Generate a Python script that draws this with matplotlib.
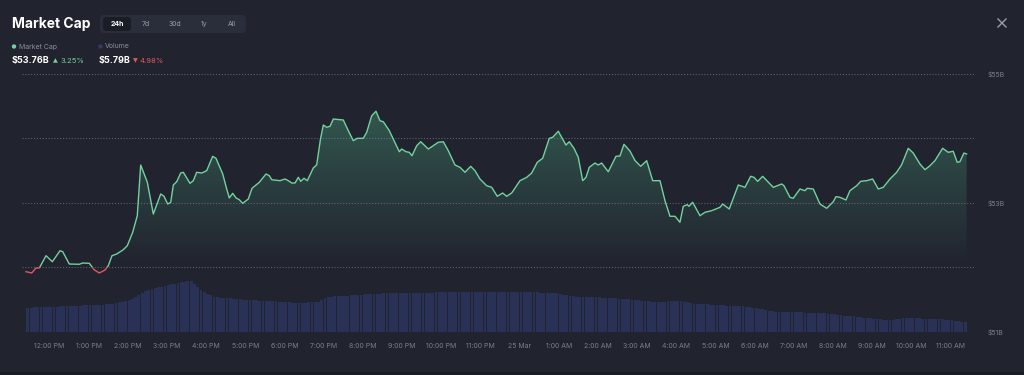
import numpy as np
import matplotlib
matplotlib.use("Agg")
import matplotlib.pyplot as plt
from matplotlib.patches import Rectangle, FancyBboxPatch, Circle
from matplotlib.lines import Line2D
from matplotlib.transforms import IdentityTransform

plt.rcParams['font.family'] = ['Inter', 'DejaVu Sans']

# 시간축: 24 Mar 12:00 PM 기준 경과 시간(h)
hours = [
    -0.595, -0.449, -0.339, -0.255, -0.084, 0.077, 0.273, 0.342, 0.510, 0.766,
    0.852, 1.021, 1.141, 1.276, 1.421, 1.505, 1.600, 1.720, 1.888, 1.990,
    2.128, 2.245, 2.332, 2.501, 2.654, 2.843, 2.927, 3.021, 3.098, 3.164,
    3.251, 3.353, 3.419, 3.590, 3.674, 3.761, 3.889, 4.016, 4.169, 4.254,
    4.425, 4.527, 4.593, 4.680, 4.764, 4.848, 4.935, 5.078, 5.172, 5.358,
    5.530, 5.614, 5.675, 5.887, 6.014, 6.099, 6.185, 6.270, 6.354, 6.415,
    6.499, 6.583, 6.736, 6.823, 6.920, 6.992, 7.078, 7.163, 7.247, 7.502,
    7.630, 7.757, 7.859, 8.012, 8.099, 8.227, 8.336, 8.438, 8.523, 8.676,
    8.796, 8.931, 8.992, 9.102, 9.186, 9.255, 9.375, 9.477, 9.671, 9.798,
    9.926, 10.054, 10.181, 10.352, 10.480, 10.607, 10.753, 10.862, 10.990, 11.161,
    11.289, 11.431, 11.569, 11.671, 11.799, 12.011, 12.182, 12.309, 12.452, 12.590,
    12.758, 12.845, 12.988, 13.075, 13.184, 13.269, 13.389, 13.498, 13.611, 13.695,
    13.779, 13.924, 14.009, 14.095, 14.264, 14.460, 14.562, 14.664, 14.817, 14.945,
    15.091, 15.244, 15.397, 15.583, 15.711, 15.838, 15.966, 16.093, 16.178, 16.280,
    16.323, 16.417, 16.604, 16.731, 16.902, 17.114, 17.183, 17.351, 17.581, 17.752,
    17.897, 17.982, 18.076, 18.204, 18.474, 18.688, 18.747, 18.900, 18.984, 19.155,
    19.283, 19.341, 19.495, 19.666, 19.837, 20.005, 20.074, 20.176, 20.329, 20.431,
    20.602, 20.704, 20.857, 21.010, 21.153, 21.281, 21.452, 21.623, 21.750, 21.919,
    22.046, 22.217, 22.345, 22.472, 22.600, 22.796, 22.939, 23.066, 23.168, 23.237,
    23.339, 23.408,
]

# 시가총액 ($B)
mcap = [
    51.935, 51.915, 51.992, 51.992, 52.183, 52.090, 52.260, 52.245, 52.054, 52.050,
    52.070, 52.065, 51.966, 51.915, 51.961, 52.028, 52.183, 52.209, 52.276, 52.338,
    52.546, 52.803, 53.589, 53.321, 52.829, 53.140, 53.104, 52.984, 53.011, 53.279,
    53.330, 53.465, 53.476, 53.305, 53.346, 53.476, 53.465, 53.501, 53.724, 53.693,
    53.450, 53.217, 53.078, 53.150, 53.078, 53.051, 52.995, 53.062, 53.228, 53.321,
    53.450, 53.423, 53.361, 53.346, 53.372, 53.346, 53.310, 53.310, 53.398, 53.336,
    53.383, 53.346, 53.543, 53.592, 53.992, 54.209, 54.174, 54.189, 54.302, 54.287,
    54.121, 53.966, 54.003, 54.003, 54.096, 54.353, 54.422, 54.276, 54.260, 54.121,
    53.966, 53.795, 53.837, 53.795, 53.786, 53.733, 53.888, 53.950, 53.837, 53.888,
    53.941, 53.950, 53.811, 53.589, 53.553, 53.476, 53.569, 53.501, 53.372, 53.268,
    53.243, 53.104, 53.155, 53.104, 53.155, 53.346, 53.398, 53.465, 53.631, 53.693,
    54.003, 54.019, 54.112, 54.019, 53.899, 53.950, 53.848, 53.709, 53.346, 53.398,
    53.553, 53.620, 53.589, 53.620, 53.485, 53.724, 53.729, 53.910, 53.806, 53.659,
    53.569, 53.656, 53.346, 53.346, 53.036, 52.794, 52.794, 52.701, 52.949, 52.974,
    52.949, 53.011, 52.803, 52.856, 52.881, 52.933, 52.984, 52.907, 53.279, 53.243,
    53.414, 53.398, 53.336, 53.414, 53.243, 53.295, 53.268, 53.088, 53.073, 53.217,
    53.191, 53.228, 53.217, 52.984, 52.918, 53.020, 53.098, 53.088, 53.047, 53.191,
    53.268, 53.336, 53.346, 53.372, 53.217, 53.243, 53.372, 53.476, 53.594, 53.848,
    53.775, 53.605, 53.516, 53.578, 53.656, 53.848, 53.786, 53.802, 53.631, 53.640,
    53.775, 53.760,
]
base_mcap = 52.0

# 24시간 거래량 ($B), 5분 간격, 11:25 AM 부터
vol_start = -7 / 12
volume = [
    6.08, 6.08, 6.09, 6.09, 6.09, 6.09, 6.10, 6.10, 6.10, 6.10, 6.11, 6.11,
    6.11, 6.11, 6.12, 6.12, 6.12, 6.13, 6.13, 6.13, 6.14, 6.14, 6.14, 6.14,
    6.15, 6.15, 6.16, 6.17, 6.19, 6.20, 6.22, 6.24, 6.26, 6.29, 6.33, 6.37,
    6.41, 6.43, 6.45, 6.47, 6.49, 6.50, 6.52, 6.53, 6.55, 6.56, 6.58, 6.59,
    6.60, 6.61, 6.61, 6.55, 6.49, 6.43, 6.39, 6.36, 6.33, 6.30, 6.29, 6.28,
    6.28, 6.27, 6.27, 6.26, 6.25, 6.25, 6.24, 6.24, 6.23, 6.23, 6.23, 6.22,
    6.22, 6.22, 6.21, 6.21, 6.21, 6.20, 6.20, 6.19, 6.19, 6.18, 6.18, 6.18,
    6.18, 6.18, 6.19, 6.19, 6.19, 6.20, 6.23, 6.27, 6.30, 6.30, 6.31, 6.31,
    6.31, 6.32, 6.32, 6.33, 6.33, 6.34, 6.34, 6.35, 6.35, 6.35, 6.36, 6.36,
    6.36, 6.37, 6.37, 6.38, 6.38, 6.38, 6.38, 6.38, 6.38, 6.38, 6.38, 6.38,
    6.38, 6.38, 6.38, 6.38, 6.38, 6.39, 6.39, 6.39, 6.39, 6.39, 6.39, 6.39,
    6.39, 6.39, 6.39, 6.39, 6.39, 6.39, 6.39, 6.39, 6.39, 6.39, 6.39, 6.39,
    6.39, 6.39, 6.39, 6.39, 6.39, 6.39, 6.39, 6.39, 6.39, 6.39, 6.39, 6.39,
    6.39, 6.38, 6.38, 6.38, 6.37, 6.37, 6.37, 6.35, 6.34, 6.33, 6.31, 6.31,
    6.30, 6.30, 6.30, 6.30, 6.29, 6.29, 6.29, 6.29, 6.28, 6.28, 6.27, 6.27,
    6.27, 6.26, 6.26, 6.25, 6.25, 6.24, 6.24, 6.23, 6.22, 6.22, 6.21, 6.20,
    6.20, 6.20, 6.20, 6.20, 6.21, 6.21, 6.21, 6.21, 6.21, 6.20, 6.19, 6.17,
    6.16, 6.16, 6.16, 6.15, 6.15, 6.14, 6.14, 6.13, 6.13, 6.13, 6.12, 6.12,
    6.12, 6.11, 6.11, 6.11, 6.10, 6.09, 6.08, 6.07, 6.06, 6.05, 6.03, 6.02,
    6.01, 6.00, 6.00, 6.00, 6.00, 5.99, 5.99, 5.99, 5.99, 5.99, 5.98, 5.98,
    5.98, 5.98, 5.98, 5.98, 5.97, 5.96, 5.95, 5.95, 5.94, 5.93, 5.92, 5.92,
    5.91, 5.91, 5.90, 5.89, 5.88, 5.88, 5.87, 5.86, 5.86, 5.85, 5.84, 5.84,
    5.83, 5.84, 5.85, 5.86, 5.88, 5.88, 5.88, 5.87, 5.87, 5.87, 5.86, 5.86,
    5.86, 5.86, 5.85, 5.85, 5.85, 5.84, 5.84, 5.83, 5.82, 5.81, 5.80, 5.79,
]

tick_labels = ['12:00 PM', '1:00 PM', '2:00 PM', '3:00 PM', '4:00 PM', '5:00 PM',
               '6:00 PM', '7:00 PM', '8:00 PM', '9:00 PM', '10:00 PM', '11:00 PM',
               '25 Mar', '1:00 AM', '2:00 AM', '3:00 AM', '4:00 AM', '5:00 AM',
               '6:00 AM', '7:00 AM', '8:00 AM', '9:00 AM', '10:00 AM', '11:00 AM']
y_ticks = [51, 53, 55]
y_labels = ['$51B', '$53B', '$55B']
tabs = ['24h', '7d', '30d', '1y', 'All']

BG = '#21232f'
GREEN = '#72d29e'
RED = '#de5a5e'
MUTED = '#7a7e8c'

W, H = 1024, 375
fig = plt.figure(figsize=(W / 100, H / 100), dpi=100, facecolor=BG)


def fx(x):
    return x / W


def fy(y):
    return 1 - y / H


# 차트 영역
ax = fig.add_axes([fx(22), fy(332), fx(975) - fx(22), fy(60) - fy(332)])
ax_v = ax.twinx()
ax.set_zorder(ax_v.get_zorder() + 1)
ax.patch.set_visible(False)
ax_v.set_facecolor(BG)

xlim = (-0.697, 23.622)
ax.set_xlim(*xlim)
ax.set_ylim(51, 55.217)
ax_v.set_ylim(5.59, 11.03)

# 거래량 막대
vol_times = vol_start + np.arange(len(volume)) / 12
ax_v.bar(vol_times, volume, width=0.072, color='#2a3156', edgecolor='none', align='edge')
ax_v.set_yticks([])

# 그리드
for g in [51, 52, 53, 54, 55]:
    ax.axhline(g, color='#5b5f70', lw=0.8, ls=(0, (1, 1.6)), zorder=1)

# 그라데이션 영역
h = np.array(hours)
m = np.array(mcap)
poly = ax.fill_between(h, m, base_mcap, color='none', lw=0)
grad = np.zeros((100, 1, 4))
grad[:, 0, 0] = 0.31
grad[:, 0, 1] = 0.68
grad[:, 0, 2] = 0.51
grad[:, 0, 3] = np.linspace(0.38, 0.0, 100)
im = ax.imshow(grad, extent=[h[0], h[-1], base_mcap, 54.45], aspect='auto',
               origin='upper', zorder=2, interpolation='bilinear')
im.set_clip_path(poly.get_paths()[0], transform=ax.transData)
ax.set_xlim(*xlim)
ax.set_ylim(51, 55.217)

# 선 (기준 이상은 초록, 이하는 빨강)
ln_g, = ax.plot(h, m, color=GREEN, lw=1.0, zorder=4)
ln_r, = ax.plot(h, m, color=RED, lw=1.0, zorder=4)
clip_up = Rectangle((xlim[0], base_mcap), 30, 10, transform=ax.transData)
clip_dn = Rectangle((xlim[0], base_mcap - 10), 30, 10, transform=ax.transData)
ln_g.set_clip_path(clip_up)
ln_r.set_clip_path(clip_dn)

# 축 설정
ax.yaxis.tick_right()
ax.set_yticks(y_ticks)
ax.set_yticklabels(y_labels)
ax.set_xticks(range(len(tick_labels)))
ax.set_xticklabels(tick_labels)
ax.tick_params(axis='y', length=0, pad=9, labelsize=5, labelcolor=MUTED)
ax.tick_params(axis='x', length=0, pad=8, labelsize=5, labelcolor=MUTED)
for a in (ax, ax_v):
    for s in a.spines.values():
        s.set_visible(False)

# 헤더
fig.text(fx(12), fy(24), 'Market Cap', fontsize=10, weight='bold', color='white',
         va='center', ha='left')

px = IdentityTransform()
fig.add_artist(FancyBboxPatch((100, H - 33), 146, 18, boxstyle='round,pad=0,rounding_size=4',
                              transform=px, fc='#2a2d3a', ec='none'))
fig.add_artist(FancyBboxPatch((103, H - 31), 28, 14, boxstyle='round,pad=0,rounding_size=3',
                              transform=px, fc='#1a1c26', ec='none'))
for lab, x in zip(tabs, [117, 146, 175, 204.5, 231.5]):
    fig.text(fx(x), fy(24), lab, fontsize=5, color='white' if lab == '24h' else '#9a9eab',
             weight='bold' if lab == '24h' else 'normal', ha='center', va='center')

# 범례
fig.add_artist(Circle((14, H - 46.5), 2.2, transform=px, fc=GREEN, ec='none'))
fig.text(fx(19), fy(46.5), 'Market Cap', fontsize=5, color='#8a8e9c', va='center')
fig.add_artist(Circle((100.5, H - 46.5), 2.2, transform=px, fc='#333b66', ec='none'))
fig.text(fx(105), fy(46.5), 'Volume', fontsize=5, color='#8a8e9c', va='center')

fig.text(fx(12), fy(61), '$53.76B', fontsize=6.5, weight='bold', color='white', va='center')
fig.text(fx(52.5), fy(61), '▲', fontsize=4.5, color=GREEN, va='center', family='DejaVu Sans')
fig.text(fx(60.5), fy(61), '3.25%', fontsize=5.5, color=GREEN, va='center')
fig.text(fx(99), fy(61), '$5.79B', fontsize=6.5, weight='bold', color='white', va='center')
fig.text(fx(132.5), fy(61), '▼', fontsize=4.5, color=RED, va='center', family='DejaVu Sans')
fig.text(fx(140), fy(61), '4.98%', fontsize=5.5, color=RED, va='center')

# 닫기 버튼
for (x0, y0, x1, y1) in [(998, 19, 1006, 27), (998, 27, 1006, 19)]:
    fig.add_artist(Line2D([x0, x1], [H - y0, H - y1], transform=px, color='#9a9eab', lw=1))

# 하단 띠
fig.add_artist(Rectangle((0, 0), W, 3, transform=px, fc='#191b24', ec='none'))

fig.savefig('out.png', dpi=100, facecolor=BG)
